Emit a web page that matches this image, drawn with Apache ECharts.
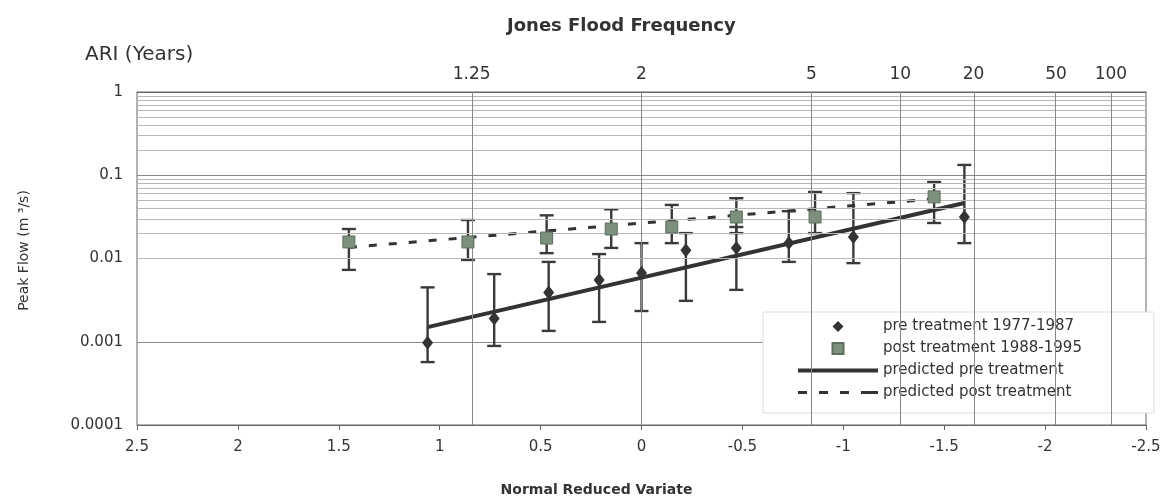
<!DOCTYPE html>
<html>
<head>
<meta charset="utf-8">
<script src="https://cdn.jsdelivr.net/npm/echarts@6/dist/echarts.min.js"></script>
<style>
  html, body { margin: 0; padding: 0; background: #fff; }
  #main { width: 1168px; height: 502px; }
</style>
</head>
<body>
<div id="main"></div>
<script>
// ARI (years) labels on the top axis and their normal reduced variate
var ariLabels = ['1.25', '2', '5', '10', '20', '50', '100'];
var ariVariate = [0.842, 0, -0.842, -1.282, -1.645, -2.054, -2.326];

// pre treatment 1977-1987
var preVariate = [1.06, 0.73, 0.46, 0.21, 0.0, -0.22, -0.47, -0.73, -1.05, -1.6];
var preFlow = [0.00097, 0.0019, 0.0039, 0.0055, 0.0067, 0.0126, 0.0134, 0.0153, 0.0181, 0.0315];
var preLow = [0.00057, 0.00089, 0.00135, 0.00173, 0.00234, 0.0031, 0.0042, 0.0091, 0.0088, 0.0153];
var preHigh = [0.0045, 0.0065, 0.0091, 0.0113, 0.0153, 0.0202, 0.0239, 0.037, 0.061, 0.133];

// post treatment 1988-1995
var postVariate = [1.45, 0.86, 0.47, 0.15, -0.15, -0.47, -0.86, -1.45];
var postFlow = [0.0158, 0.0158, 0.0176, 0.0226, 0.0239, 0.0315, 0.0315, 0.055];
var postLow = [0.0073, 0.0096, 0.0116, 0.0134, 0.0153, 0.0202, 0.0202, 0.0267];
var postHigh = [0.0226, 0.029, 0.033, 0.039, 0.044, 0.053, 0.063, 0.083];

// fitted lines
var predPreVariate = [1.06, -1.6];
var predPreFlow = [0.0015, 0.0464];
var predPostVariate = [1.45, -1.45];
var predPostFlow = [0.0136, 0.052];

var decades = [0.0001, 0.001, 0.01, 0.1];
var minorSteps = [2, 3, 4, 5, 6, 7, 8, 9];

var myChart = echarts.init(document.getElementById('main'));

function zip2(a, b) {
    var out = [];
    for (var i = 0; i < a.length; i++) out.push([a[i], b[i]]);
    return out;
}
function zip3(a, b, c) {
    var out = [];
    for (var i = 0; i < a.length; i++) out.push([a[i], b[i], c[i]]);
    return out;
}

//误差线
function renderErr(params, api) {
    var x = api.value(0);
    var top = api.coord([x, api.value(2)]);
    var bot = api.coord([x, api.value(1)]);
    var w = 7;
    var style = { stroke: '#3a3a3a', lineWidth: 2.4 };
    return {
        type: 'group',
        children: [
            { type: 'line', shape: { x1: top[0], y1: top[1], x2: bot[0], y2: bot[1] }, style: style },
            { type: 'line', shape: { x1: top[0] - w, y1: top[1], x2: top[0] + w, y2: top[1] }, style: style },
            { type: 'line', shape: { x1: bot[0] - w, y1: bot[1], x2: bot[0] + w, y2: bot[1] }, style: style }
        ]
    };
}

// log minor grid lines 2..9 in each decade
var minorLines = [];
decades.forEach(function (d) {
    minorSteps.forEach(function (s) {
        minorLines.push({ yAxis: +(d * s).toPrecision(3) });
    });
});
var ariLines = ariVariate.map(function (v) { return { xAxis: v }; });

var font = '"DejaVu Sans", Arial, sans-serif';

// legend icons (path so they keep their aspect)
var iconDiamond = 'path://M6,0L12,6L6,12L0,6Z';
var iconSquare = 'path://M0,0L12,0L12,12L0,12Z';
var iconSolid = 'path://M0,0L80,0L80,4L0,4Z';
var iconDash = 'path://M0,0L9,0L9,3L0,3Z M21,0L30,0L30,3L21,3Z M42,0L51,0L51,3L42,3Z M63,0L80,0L80,3L63,3Z';

var option = {
    animation: false,
    title: [{
        text: 'Jones Flood Frequency',
        left: 502,
        top: 12,
        textStyle: { fontFamily: font, fontSize: 18, fontWeight: 'bold', color: '#333' }
    }, {
        text: 'ARI (Years)',
        left: 80,
        top: 40,
        textStyle: { fontFamily: font, fontSize: 20, fontWeight: 'normal', color: '#333' }
    }],
    grid: {
        left: 137, right: 22, top: 92, bottom: 77,
        show: true, borderColor: '#666', borderWidth: 1
    },
    legend: {
        data: [
            { name: 'pre treatment 1977-1987', icon: iconDiamond },
            { name: 'post treatment 1988-1995', icon: iconSquare },
            { name: 'predicted pre treatment', icon: iconSolid },
            { name: 'predicted post treatment', icon: iconDash }
        ],
        symbolKeepAspect: true,
        orient: 'vertical',
        left: 763,
        top: 312,
        padding: [7, 72, 13, 35],
        itemWidth: 80,
        itemHeight: 11,
        itemGap: 7,
        backgroundColor: '#fff',
        borderColor: '#ddd',
        borderWidth: 1,
        textStyle: { fontFamily: font, fontSize: 15, color: '#333' }
    },
    xAxis: [{
        type: 'value',
        min: -2.5, max: 2.5, interval: 0.5,
        inverse: true,
        position: 'bottom',
        name: 'Normal Reduced Variate',
        nameLocation: 'middle',
        nameGap: 58,
        nameTextStyle: { fontFamily: font, fontSize: 14, fontWeight: 'bold', color: '#333', padding: [0, 90, 0, 0] },
        axisLine: { show: true, lineStyle: { color: '#666' } },
        axisTick: { show: true, lineStyle: { color: '#666' } },
        axisLabel: { margin: 15, fontFamily: font, fontSize: 15, color: '#333' },
        splitLine: { show: false }
    }, {
        type: 'value',
        min: -2.5, max: 2.5,
        inverse: true,
        position: 'top',
        axisLine: { show: true, lineStyle: { color: '#666' } },
        axisTick: { show: false },
        splitLine: { show: false },
        axisLabel: {
            customValues: ariVariate,
            margin: 9,
            fontFamily: font, fontSize: 17, color: '#333',
            formatter: function (v) {
                for (var i = 0; i < ariVariate.length; i++) {
                    if (Math.abs(ariVariate[i] - v) < 1e-6) return ariLabels[i];
                }
                return '';
            }
        }
    }],
    yAxis: {
        type: 'log',
        logBase: 10,
        min: 0.0001, max: 1,
        name: 'Peak Flow (m ³/s)',
        nameLocation: 'middle',
        nameGap: 106,
        nameTextStyle: { fontFamily: font, fontSize: 14, color: '#333', padding: [0, 0, 0, 16] },
        axisLine: { show: true, lineStyle: { color: '#666' } },
        axisTick: { show: false },
        axisLabel: {
            margin: 14, fontFamily: font, fontSize: 15, color: '#333',
            formatter: function (v) {
                if (v >= 1) return '1';
                return v.toFixed(Math.round(-Math.log10(v)));
            }
        },
        splitLine: { show: true, lineStyle: { color: '#8a8a8a', width: 1 } }
    },
    series: [{
        name: 'grid',
        type: 'line',
        data: [],
        silent: true,
        markLine: {
            silent: true,
            symbol: 'none',
            label: { show: false },
            lineStyle: { color: '#b8b8b8', width: 1, type: 'solid' },
            data: minorLines
        }
    }, {
        name: 'ari',
        type: 'line',
        data: [],
        silent: true,
        markLine: {
            silent: true,
            symbol: 'none',
            label: { show: false },
            lineStyle: { color: '#888', width: 1, type: 'solid' },
            data: ariLines
        }
    }, {
        name: 'postErr',
        type: 'custom',
        renderItem: renderErr,
        encode: { x: 0, y: [1, 2] },
        data: zip3(postVariate, postLow, postHigh),
        z: 3
    }, {
        name: 'preErr',
        type: 'custom',
        renderItem: renderErr,
        encode: { x: 0, y: [1, 2] },
        data: zip3(preVariate, preLow, preHigh),
        z: 3
    }, {
        name: 'predicted pre treatment',
        type: 'line',
        data: zip2(predPreVariate, predPreFlow),
        symbol: 'none',
        itemStyle: { color: '#333' },
        lineStyle: { color: '#333', width: 4 },
        z: 4
    }, {
        name: 'predicted post treatment',
        type: 'line',
        data: zip2(predPostVariate, predPostFlow),
        symbol: 'none',
        itemStyle: { color: '#333' },
        lineStyle: { color: '#333', width: 3, type: [8, 12] },
        z: 4
    }, {
        name: 'post treatment 1988-1995',
        type: 'scatter',
        data: zip2(postVariate, postFlow),
        symbol: 'rect',
        symbolSize: 12,
        itemStyle: { color: '#7d8f7d', borderColor: '#5e6e5e', borderWidth: 1, opacity: 1 },
        z: 5
    }, {
        name: 'pre treatment 1977-1987',
        type: 'scatter',
        data: zip2(preVariate, preFlow),
        symbol: 'diamond',
        symbolSize: [11, 14],
        itemStyle: { color: '#333', opacity: 1 },
        z: 6
    }]
};

myChart.setOption(option);
</script>
</body>
</html>
